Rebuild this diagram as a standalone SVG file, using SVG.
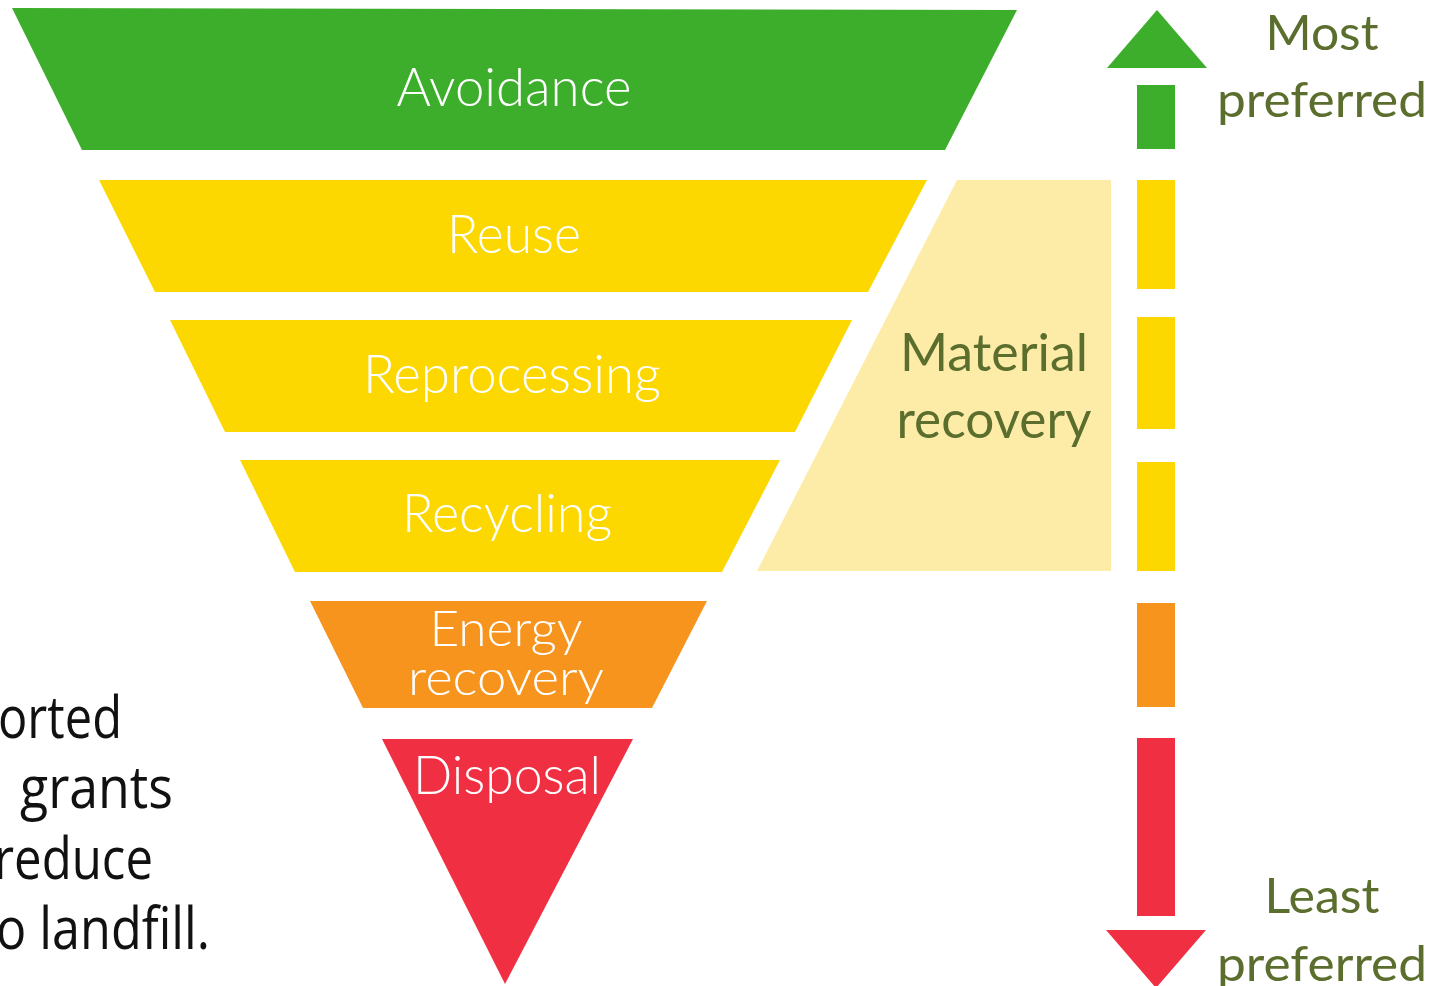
<svg xmlns="http://www.w3.org/2000/svg" width="1441" height="986" viewBox="0 0 1441 986">
<style>
.lbl{font-family:Lato,"Liberation Sans",sans-serif;font-weight:300;fill:#ffffff;text-anchor:middle}
.side{font-family:Lato,"Liberation Sans",sans-serif;font-weight:400;fill:#5b6e2d;text-anchor:middle}
.body{font-family:"Open Sans","Liberation Sans",sans-serif;font-weight:400;fill:#111111}
.g{fill:#3dae2b}.y{fill:#fcd800}.o{fill:#f6941e}.r{fill:#f03042}.ly{fill:#fdeca8}
</style>
<rect width="1441" height="986" fill="#ffffff"/>
<g id="intro-text" class="body" font-size="58">
<text x="-2" y="738" textLength="124" lengthAdjust="spacingAndGlyphs">orted</text>
<text x="20" y="808" textLength="153" lengthAdjust="spacingAndGlyphs">grants</text>
<text x="-6" y="879" textLength="159" lengthAdjust="spacingAndGlyphs">reduce</text>
<text x="-4" y="949" textLength="214" lengthAdjust="spacingAndGlyphs">o landfill.</text>
</g>
<g id="avoidance">
<polygon class="g" points="12,8 1017,10 945,150 82,150"/>
<text class="lbl" x="514" y="106" font-size="53" textLength="235" lengthAdjust="spacingAndGlyphs">Avoidance</text>
</g>
<g id="reuse">
<polygon class="y" points="99,180 927,180 868,292 155,292"/>
<text class="lbl" x="514" y="253" font-size="53" textLength="134" lengthAdjust="spacingAndGlyphs">Reuse</text>
</g>
<g id="reprocessing">
<polygon class="y" points="170,320 852,320 795,432 225,432"/>
<text class="lbl" x="512" y="393" font-size="53" textLength="298" lengthAdjust="spacingAndGlyphs">Reprocessing</text>
</g>
<g id="recycling">
<polygon class="y" points="240,460 780,460 722,572 295,572"/>
<text class="lbl" x="507" y="532" font-size="53" textLength="210" lengthAdjust="spacingAndGlyphs">Recycling</text>
</g>
<g id="energy-recovery">
<polygon class="o" points="310,601 707,601 652,708 363,708"/>
<text class="lbl" x="506" y="646" font-size="50" textLength="153" lengthAdjust="spacingAndGlyphs">Energy</text>
<text class="lbl" x="506" y="695" font-size="50" textLength="196" lengthAdjust="spacingAndGlyphs">recovery</text>
</g>
<g id="disposal">
<polygon class="r" points="382,739 633,739 505,984"/>
<text class="lbl" x="507" y="794" font-size="53" textLength="188" lengthAdjust="spacingAndGlyphs">Disposal</text>
</g>
<g id="material-recovery">
<polygon class="ly" points="957,180 1111,180 1111,571 757,571"/>
<text class="side" x="994" y="371" font-size="52" textLength="188" lengthAdjust="spacingAndGlyphs">Material</text>
<text class="side" x="994" y="438" font-size="52" textLength="195" lengthAdjust="spacingAndGlyphs">recovery</text>
</g>
<g id="preference-arrow">
<polygon class="g" points="1157,10 1207,68 1107,68"/>
<rect class="g" x="1137" y="85" width="38" height="64"/>
<rect class="y" x="1137" y="180" width="38" height="109"/>
<rect class="y" x="1137" y="317" width="38" height="112"/>
<rect class="y" x="1137" y="462" width="38" height="109"/>
<rect class="o" x="1137" y="603" width="38" height="104"/>
<rect class="r" x="1137" y="738" width="38" height="178"/>
<polygon class="r" points="1106,930 1206,930 1156,988"/>
</g>
<g id="most-preferred">
<text class="side" x="1322" y="50" font-size="48" textLength="113" lengthAdjust="spacingAndGlyphs">Most</text>
<text class="side" x="1322" y="117" font-size="48" textLength="210" lengthAdjust="spacingAndGlyphs">preferred</text>
</g>
<g id="least-preferred">
<text class="side" x="1322" y="913" font-size="48" textLength="115" lengthAdjust="spacingAndGlyphs">Least</text>
<text class="side" x="1322" y="981" font-size="48" textLength="210" lengthAdjust="spacingAndGlyphs">preferred</text>
</g>
<g id="connectors"></g>
</svg>
